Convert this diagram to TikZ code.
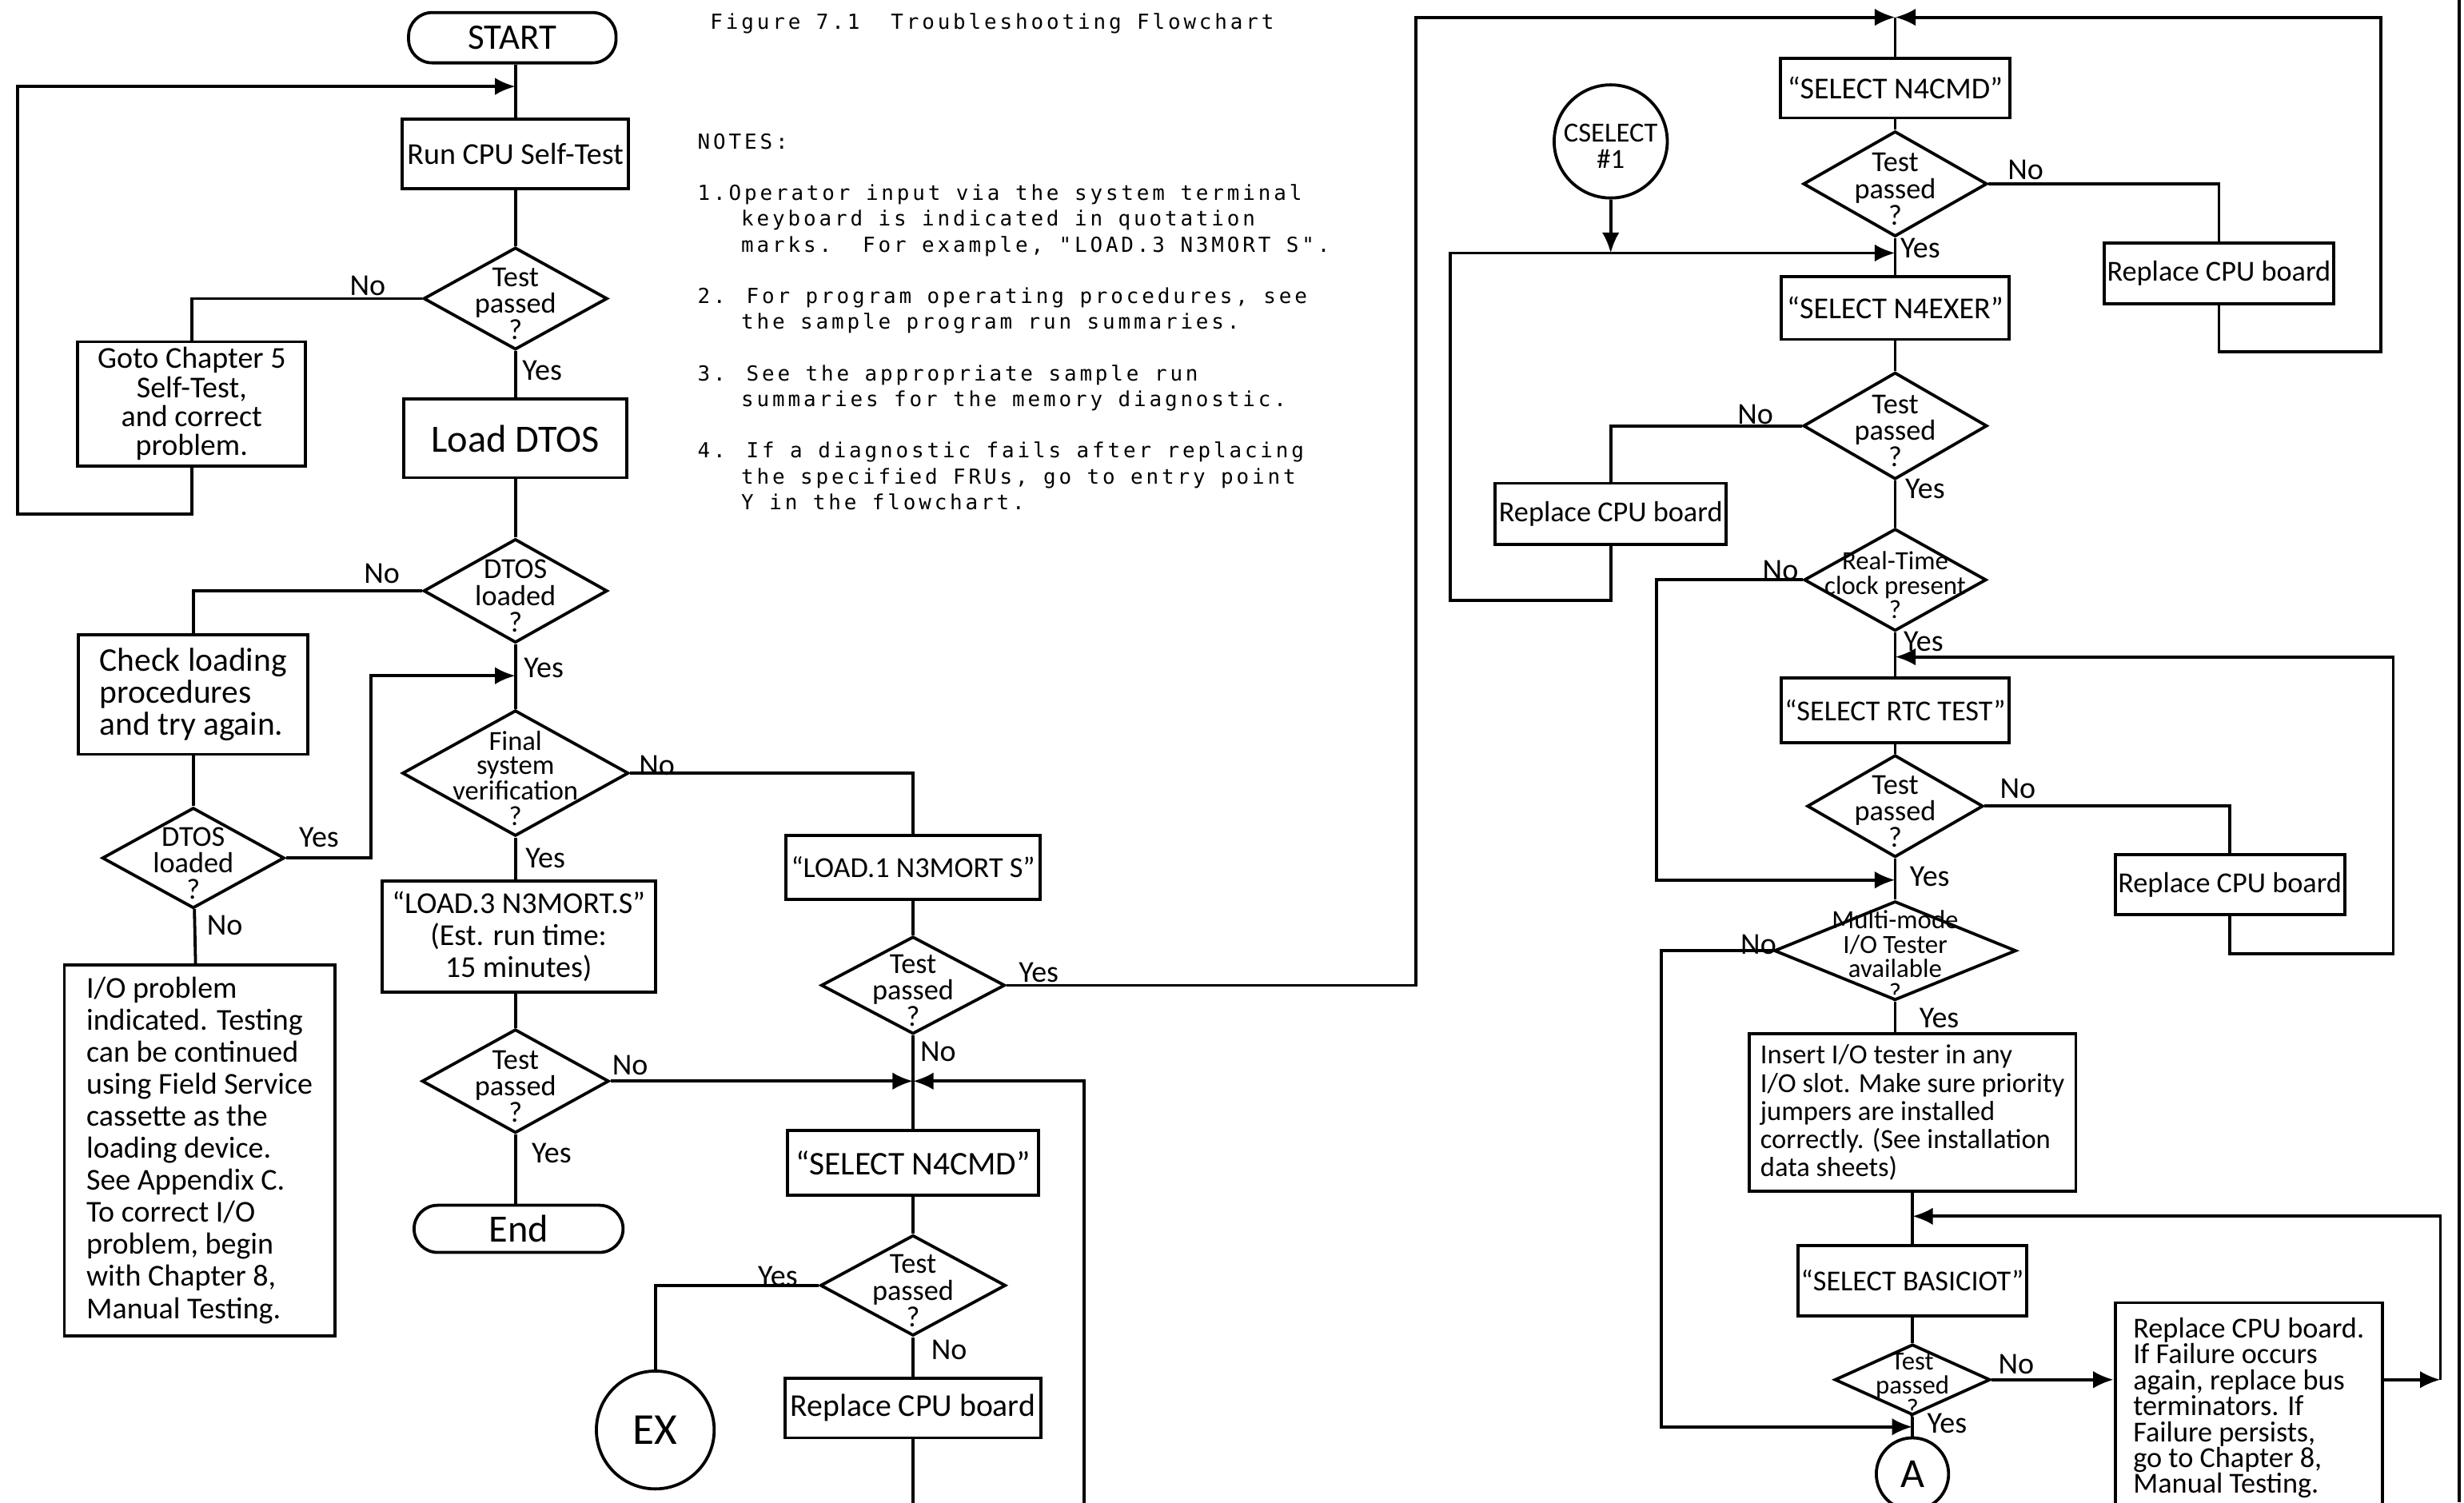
\documentclass[tikz,border=0pt]{standalone}
\usepackage{fontspec}
\setmainfont{Carlito}
\newfontfamily\typed{DejaVu Sans Mono}[LetterSpace=15]
\usetikzlibrary{arrows.meta,shapes.geometric}

% zero-size centred text, so the shape keeps its given size
\newcommand\dtxt[1]{\makebox[0pt]{\raisebox{-0.55em}[0pt][0pt]{\begin{tabular}{@{}c@{}}#1\end{tabular}}}}

\begin{document}
\begin{tikzpicture}[
    x=0.02cm, y=-0.02cm,
    line width=1.1pt,
    every node/.style={font=\fontsize{11}{12}\selectfont},
    sz/.style 2 args={minimum width=#1*0.02cm, minimum height=#2*0.02cm},
    box/.style={draw, align=center, inner sep=1pt},
    terminal/.style={draw, rounded corners=0.3cm, inner sep=0pt},
    decision/.style={draw, diamond, inner sep=0pt, font=\fontsize{10.5}{8}\selectfont},
    conn/.style={draw, circle, inner sep=0pt},
    lbl/.style={inner sep=0pt, font=\fontsize{11}{11}\selectfont},
    typed/.style={inner sep=0pt, align=left, font=\typed\fontsize{7.5}{9.33}\selectfont},
    flow/.style={-{Latex[length=2.6mm,width=2.2mm]}}
]
\useasboundingbox (0,0) rectangle (1568,956);
\fill[white] (0,0) rectangle (1568,956);
\clip (0,0) rectangle (1568,956);

% title and notes
\node[typed, anchor=west] (title) at (451,15) {Figure 7.1\ \ Troubleshooting Flowchart};
\node[typed, anchor=north west] (notes) at (443,84) {NOTES:\\[9.33pt]
1.Operator input via the system terminal\\
\phantom{0.0}keyboard is indicated in quotation\\
\phantom{0.0}marks.\ \ For example, "LOAD.3 N3MORT S".\\[9.33pt]
2. For program operating procedures, see\\
\phantom{0.0}the sample program run summaries.\\[9.33pt]
3. See the appropriate sample run\\
\phantom{0.0}summaries for the memory diagnostic.\\[9.33pt]
4. If a diagnostic fails after replacing\\
\phantom{0.0}the specified FRUs, go to entry point\\
\phantom{0.0}Y in the flowchart.};

% left column
\node[terminal, sz={132}{32}, font=\fontsize{13}{13}\selectfont] (start) at (326,24) {START};
\node[box, sz={144}{44}] (selftest) at (328,98) {Run CPU Self-Test};
\node[decision, sz={117}{65}] (cputest) at (328,190) {\dtxt{Test\\passed\\?}};
\node[box, sz={145}{79}, font=\fontsize{11}{10.5}\selectfont] (gotoch) at (122,257) {Goto Chapter 5\\Self-Test,\\and correct\\problem.};
\node[box, sz={142}{50}, font=\fontsize{14}{14}\selectfont] (loaddtos) at (328,279) {Load DTOS};
\node[decision, sz={117}{66}] (dtosok) at (328,376) {\dtxt{DTOS\\loaded\\?}};
\node[box, sz={146}{76}, align=left, font=\fontsize{12}{11.5}\selectfont] (checkload) at (123,442) {Check loading\\procedures\\and try again.};
\node[decision, sz={116}{64}] (dtosretry) at (123,546) {\dtxt{DTOS\\loaded\\?}};
\node[box, sz={172}{236}, align=left, font=\fontsize{11}{11.6}\selectfont] (ioprob) at (127,732) {I/O problem\\indicated. Testing\\can be continued\\using Field Service\\cassette as the\\loading device.\\See Appendix C.\\To correct I/O\\problem, begin\\with Chapter 8,\\Manual Testing.};
\node[decision, sz={144}{80}, font=\fontsize{10}{7.8}\selectfont] (verify) at (328,492) {\dtxt{Final\\system\\verification\\?}};
\node[box, sz={174}{71}, font=\fontsize{11}{11.5}\selectfont] (load3) at (330,596) {``LOAD.3 N3MORT.S''\\(Est. run time:\\15 minutes)};
\node[decision, sz={119}{66}] (memtest) at (328,688) {\dtxt{Test\\passed\\?}};
\node[terminal, sz={133}{30}, font=\fontsize{14}{14}\selectfont] (done) at (330,782) {End};

% middle column
\node[box, sz={162}{41}, font=\fontsize{10.5}{11}\selectfont] (load1) at (581,552) {``LOAD.1 N3MORT S''};
\node[decision, sz={117}{62}] (loadtest) at (581,627) {\dtxt{Test\\passed\\?}};
\coordinate (jmid) at (581,688);
\node[box, sz={160}{41}, font=\fontsize{12}{12}\selectfont] (selcmd) at (581,740) {``SELECT N4CMD''};
\node[decision, sz={118}{64}] (cmdtest) at (581,818) {\dtxt{Test\\passed\\?}};
\node[conn, minimum size=1.5cm, font=\fontsize{16}{16}\selectfont] (ex) at (417,910) {EX};
\node[box, sz={163}{38}, font=\fontsize{11.5}{12}\selectfont] (repcpu) at (581,896) {Replace CPU board};

% right column
\coordinate (jtop) at (1206,11);
\node[box, sz={146}{38}] (selcmdb) at (1206,56) {``SELECT N4CMD''};
\node[decision, sz={117}{67}] (cmdtestb) at (1206,117) {\dtxt{Test\\passed\\?}};
\node[box, sz={146}{39}, font=\fontsize{10.5}{11}\selectfont] (repcpub) at (1412,174) {Replace CPU board};
\node[draw, ellipse, inner sep=0pt, sz={72}{72}, font=\fontsize{10}{9.5}\selectfont] (cselect) at (1025,90) {\dtxt{CSELECT\\\#1}};
\coordinate (jexer) at (1206,161);
\node[box, sz={145}{40}] (selexer) at (1206,196) {``SELECT N4EXER''};
\node[decision, sz={117}{68}] (exertest) at (1206,271) {\dtxt{Test\\passed\\?}};
\node[box, sz={147}{39}, font=\fontsize{10.5}{11}\selectfont] (repcpuc) at (1025,327) {Replace CPU board};
\node[decision, sz={116}{65}, font=\fontsize{9.5}{7.5}\selectfont] (rtcpresent) at (1206,369) {\dtxt{Real-Time\\clock present\\?}};
\coordinate (jrtc) at (1206,418);
\node[box, sz={145}{41}, font=\fontsize{10.5}{11}\selectfont] (selrtc) at (1206,452) {``SELECT RTC TEST''};
\node[decision, sz={112}{65}] (rtctest) at (1206,513) {\dtxt{Test\\passed\\?}};
\node[box, sz={146}{38}, font=\fontsize{10.5}{11}\selectfont] (repcpud) at (1419,563) {Replace CPU board};
\coordinate (jmm) at (1206,560);
\node[decision, sz={154}{63}, font=\fontsize{9.5}{7.3}\selectfont] (mmavail) at (1206,605) {\dtxt{Multi-mode\\I/O Tester\\available\\?}};
\node[box, sz={208}{100}, align=left, font=\fontsize{10}{10.2}\selectfont] (insertio) at (1217,708) {Insert I/O tester in any\\I/O slot. Make sure priority\\jumpers are installed\\correctly. (See installation\\data sheets)};
\coordinate (jbas) at (1217,774);
\node[box, sz={145}{45}, font=\fontsize{10.5}{11}\selectfont] (selbasic) at (1217,815) {``SELECT BASICIOT''};
\node[decision, sz={99}{45}, font=\fontsize{9.5}{7}\selectfont] (iotest) at (1217,878) {\dtxt{Test\\passed\\?}};
\coordinate (ja) at (1217,908);
\node[conn, minimum size=0.92cm, font=\fontsize{15}{15}\selectfont] (pointa) at (1217,938) {A};
\node[box, sz={170}{134}, anchor=north, align=left, font=\fontsize{10.5}{9.4}\selectfont] (repfinal) at (1431,828) {Replace CPU board.\\If Failure occurs\\again, replace bus\\terminators. If\\Failure persists,\\go to Chapter 8,\\Manual Testing.};

% yes / no tags
\node[lbl] (cpuno) at (234,182) {No};
\node[lbl] (cpuyes) at (345,236) {Yes};
\node[lbl] (dtosno) at (243,365) {No};
\node[lbl] (dtosyes) at (346,425) {Yes};
\node[lbl] (retryyes) at (203,533) {Yes};
\node[lbl] (retryno) at (143,589) {No};
\node[lbl] (verifyno) at (418,487) {No};
\node[lbl] (verifyyes) at (347,546) {Yes};
\node[lbl] (memno) at (401,678) {No};
\node[lbl] (memyes) at (351,734) {Yes};
\node[lbl] (loadyes) at (661,619) {Yes};
\node[lbl] (loadno) at (597,669) {No};
\node[lbl] (cmdyes) at (495,812) {Yes};
\node[lbl] (cmdno) at (604,859) {No};
\node[lbl] (cmdbno) at (1289,108) {No};
\node[lbl] (cmdbyes) at (1222,158) {Yes};
\node[lbl] (exerno) at (1117,264) {No};
\node[lbl] (exeryes) at (1225,311) {Yes};
\node[lbl] (rtcpno) at (1133,363) {No};
\node[lbl] (rtcpyes) at (1224,408) {Yes};
\node[lbl] (rtcno) at (1284,502) {No};
\node[lbl] (rtcyes) at (1228,558) {Yes};
\node[lbl] (mmno) at (1119,601) {No};
\node[lbl] (mmyes) at (1234,648) {Yes};
\node[lbl] (iono) at (1283,868) {No};
\node[lbl] (ioyes) at (1239,906) {Yes};

% left column flow
\coordinate (loopin) at (328,55);
\coordinate (jfin) at (328,430);
\draw (start.south -| loopin) -- (selftest);
\draw (selftest) -- (cputest);
\draw (cputest.west) -| (gotoch.north);
\draw[flow] (gotoch.south) |- (11,327) -- (11,55) -- (loopin);
\draw (cputest) -- (loaddtos);
\draw (loaddtos) -- (dtosok);
\draw (dtosok.west) -| (checkload.north);
\draw (checkload) -- (dtosretry);
\draw[flow] (dtosretry.east) -| (236,430) -- (jfin);
\draw (dtosretry) -- (ioprob);
\draw (dtosok) -- (verify);
\draw (verify.east) -| (load1.north);
\draw (verify) -- (verify |- load3.north);
\draw (load3.south -| memtest) -- (memtest);
\draw (memtest) -- (memtest |- done.north);
\draw[flow] (memtest.east) -- (jmid);

% middle column flow
\draw (load1) -- (loadtest);
\draw (loadtest) -- (selcmd);
\draw (selcmd) -- (cmdtest);
\draw (cmdtest.west) -| (ex.north);
\draw (cmdtest) -- (repcpu);
\draw[flow] (repcpu.south) -- (581,990) -| (690,688) -- (jmid);
\draw[flow] (loadtest.east) -| (901,11) -- (jtop);

% right column flow
\draw (jtop) -- (selcmdb);
\draw (selcmdb) -- (cmdtestb);
\draw (cmdtestb.east) -| (repcpub.north);
\draw[flow] (repcpub.south) |- (1515,224) -- (1515,11) -- (jtop);
\draw (cmdtestb) -- (selexer);
\draw[flow] (cselect.south) -- (cselect.south |- jexer);
\draw[flow] (repcpuc.south) |- (923,382) -- (923,161) -- (jexer);
\draw (selexer) -- (exertest);
\draw (exertest.west) -| (repcpuc.north);
\draw (exertest) -- (rtcpresent);
\draw (rtcpresent) -- (selrtc);
\draw[flow] (repcpud.south) |- (1523,607) -- (1523,418) -- (jrtc);
\draw (selrtc) -- (rtctest);
\draw (rtctest.east) -| (repcpud.north);
\draw[flow] (rtcpresent.west) -| (1054,560) -- (jmm);
\draw (rtctest) -- (mmavail);
\draw (mmavail.south) -- (mmavail.south |- insertio.north);
\draw[flow] (mmavail.west) -| (1057,908) -- (ja);
\draw (insertio) -- (selbasic);
\draw (selbasic) -- (iotest);
\draw (iotest) -- (pointa);
\draw[flow] (iotest.east) -- (iotest.east -| repfinal.west);
\coordinate (rcorner) at (1553,878);
\draw[flow] (repfinal.east |- iotest.east) -- (rcorner);
\draw[flow] (rcorner) -- (1553,774) -- (jbas);

% page edge
\draw (1565,0) -- (1565,956);
\end{tikzpicture}
\end{document}
